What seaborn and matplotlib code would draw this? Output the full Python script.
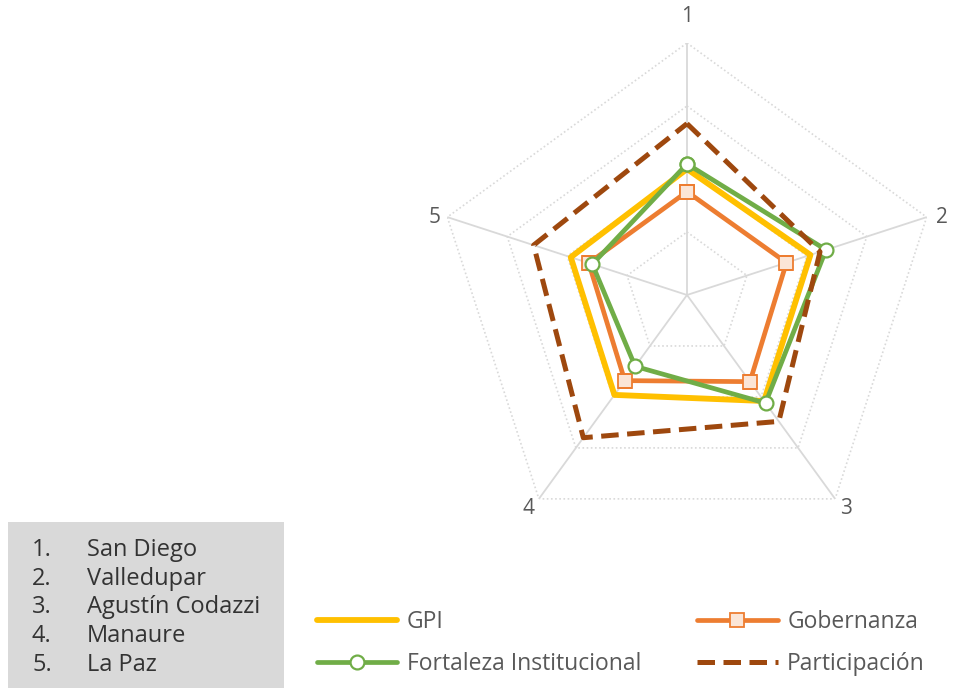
import numpy as np
import pandas as pd
import matplotlib
matplotlib.use("Agg")
import matplotlib.pyplot as plt
import seaborn as sns
from matplotlib.patches import Rectangle

# data
axes_labels = ["1", "2", "3", "4", "5"]
municipios = ["San Diego", "Valledupar", "Agustín Codazzi", "Manaure", "La Paz"]
gpi = [0.50, 0.515, 0.52, 0.49, 0.485]
gobernanza = [0.41, 0.415, 0.425, 0.42, 0.41]
fortaleza = [0.52, 0.58, 0.53, 0.35, 0.395]
participacion = [0.68, 0.555, 0.62, 0.70, 0.64]
ring_levels = [0.25, 0.5, 0.75, 1.0]

sns.set_theme(style="white")
plt.rcParams["font.family"] = ["Open Sans", "DejaVu Sans"]
text_color = "#595959"
grid_color = "#d9d9d9"

W, H = 964, 690
fig = plt.figure(figsize=(W / 100, H / 100), dpi=100)

cx, cy, R = 687, 295, 252
ax = fig.add_axes([(cx - R) / W, (H - cy - R) / H, 2 * R / W, 2 * R / H],
                  projection="polar")
ax.set_theta_offset(np.pi / 2)
ax.set_theta_direction(-1)
ax.set_ylim(0, 1)
ax.grid(False)
ax.spines["polar"].set_visible(False)
ax.patch.set_alpha(0)

n = len(axes_labels)
theta = np.arange(n) * 2 * np.pi / n
theta_closed = np.append(theta, 2 * np.pi)

# grid: dotted rings, solid spokes
for lv in ring_levels:
    ax.plot(theta_closed, [lv] * (n + 1), color=grid_color, lw=1.2,
            ls=(0, (1, 1.5)), zorder=1)
for t in theta:
    ax.plot([t, t], [0, 1], color=grid_color, lw=1.3, zorder=1)

# category labels, offsets in pixels from each outer vertex
label_offsets = [(0, 26), (15, 0), (11, -10), (-10, -10), (-13, 0)]
for t, lab, off in zip(theta, axes_labels, label_offsets):
    ax.annotate(lab, xy=(t, 1), xytext=off, textcoords="offset pixels",
                ha="center", va="center", fontsize=15, color=text_color)

series = [
    ("GPI", gpi, dict(color="#FFC000", lw=4.2)),
    ("Gobernanza", gobernanza, dict(color="#ED7D31", lw=3.4, marker="s",
                                    markersize=10, markerfacecolor="#FBE5D6",
                                    markeredgecolor="#ED7D31",
                                    markeredgewidth=1.3)),
    ("Fortaleza Institucional", fortaleza, dict(color="#70AD47", lw=3.4,
                                                marker="o", markersize=10,
                                                markerfacecolor="white",
                                                markeredgecolor="#70AD47",
                                                markeredgewidth=1.6)),
    ("Participación", participacion, dict(color="#9E480E", lw=3.6,
                                          dashes=(3.5, 1.7))),
]

handles = {}
for name, vals, kw in series:
    df = pd.DataFrame({"theta": theta_closed, "valor": list(vals) + [vals[0]]})
    kw = dict(kw)
    dashes = kw.pop("dashes", None)
    sns.lineplot(data=df, x="theta", y="valor", ax=ax, sort=False,
                 estimator=None, zorder=3, **kw)
    line = ax.lines[-1]
    line.set_solid_capstyle("round")
    if dashes:
        line.set_dashes(dashes)
    handles[name] = line

ax.set_xlabel("")
ax.set_ylabel("")
ax.set_xticks([])
ax.set_yticks([])

# legend of series
order = ["GPI", "Fortaleza Institucional", "Gobernanza", "Participación"]
fig.legend([handles[k] for k in order], order, ncol=2, frameon=False,
           loc="upper left", bbox_to_anchor=(317 / W, 1 - 610 / H),
           borderaxespad=0, borderpad=0,
           fontsize=16.5, labelcolor=text_color, handlelength=3.5,
           handletextpad=0.42, columnspacing=2.45, labelspacing=0.78)

# box with municipality names
fig.patches.append(Rectangle((8 / W, 2 / H), 276 / W, (H - 524) / H,
                             transform=fig.transFigure, facecolor="#d9d9d9",
                             edgecolor="none", zorder=0))
for i, m in enumerate(municipios):
    y = 1 - (550 + i * 28.7) / H
    fig.text(32 / W, y, f"{i + 1}.", fontsize=17, color="#333333",
             va="center")
    fig.text(87 / W, y, m, fontsize=17, color="#333333", va="center")

fig.savefig("out.png", dpi=100)
